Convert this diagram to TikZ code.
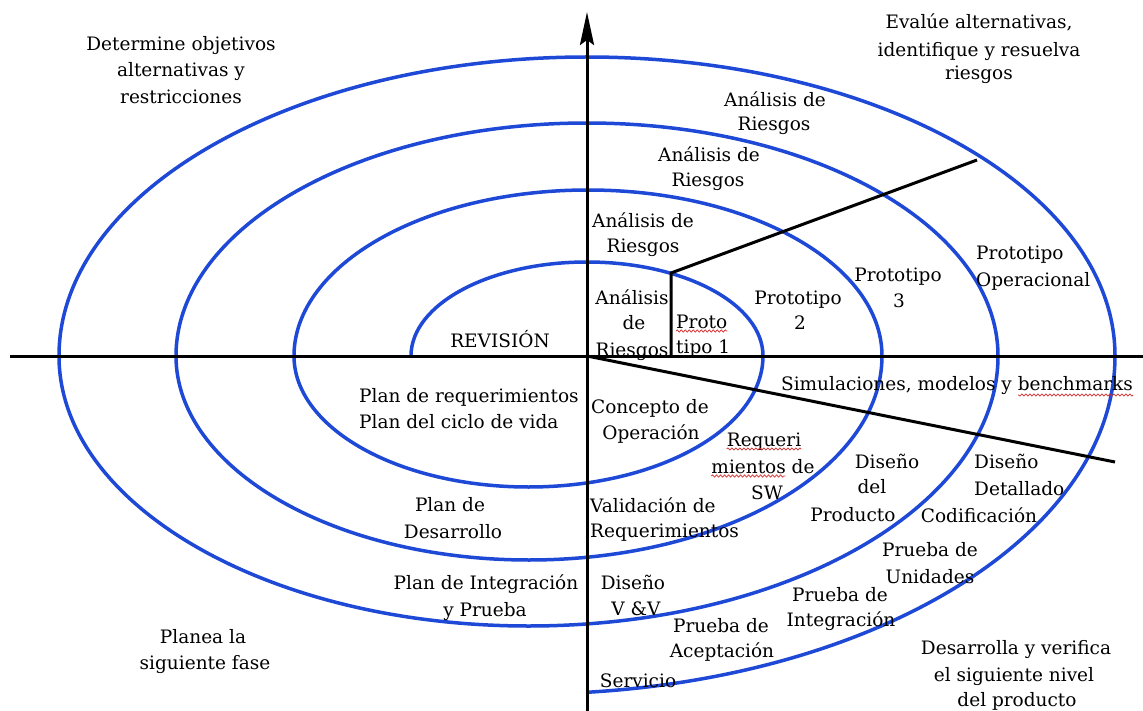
\documentclass[tikz,border=0pt]{standalone}
\usepackage{fontspec}
\setmainfont{DejaVu Serif}
\usetikzlibrary{arrows.meta,decorations.pathmorphing}
\definecolor{spiralblue}{RGB}{30,72,214}
\definecolor{squigred}{RGB}{215,45,45}
\begin{document}
\begin{tikzpicture}[x=1pt,y=1pt,
  lbl/.style={font=\fontsize{18.5}{26}\selectfont, inner sep=0pt, anchor=base},
  lbll/.style={lbl, anchor=base west},
  spiral/.style={draw=spiralblue, line width=3.5pt, line join=round},
  axisline/.style={draw=black, line width=3pt},
  squig/.style={draw=squigred, line width=0.7pt, decorate, decoration={snake, amplitude=1.1pt, segment length=4pt}}]

\fill[white] (0,0) rectangle (1143,-711);
\useasboundingbox (0,0) rectangle (1143,-711);

% spiral
\draw[spiral] (411,-356)
  arc[start angle=180, end angle=0, x radius=176, y radius=94]
  arc[start angle=0, end angle=-180, x radius=234.5, y radius=131]
  arc[start angle=180, end angle=0, x radius=294, y radius=166]
  arc[start angle=0, end angle=-180, x radius=353, y radius=204]
  arc[start angle=180, end angle=0, x radius=411, y radius=233]
  arc[start angle=0, end angle=-180, x radius=469.5, y radius=270]
  arc[start angle=180, end angle=0, x radius=528, y radius=299]
  arc[start angle=0, end angle=-84.2, x radius=587, y radius=338];

% quadrant texts
\node[lbl] (dt1) at (181,-51) {Determine objetivos};
\node[lbl] (dt2) at (181,-77) {alternativas y};
\node[lbl] (dt3) at (181,-104) {restricciones};

\node[lbl] (ev1) at (979,-29) {Evalúe alternativas,};
\node[lbl] (ev2) at (979,-57) {identifique y resuelva};
\node[lbl] (ev3) at (979,-80) {riesgos};

\node[lbl] (pl1) at (203,-643) {Planea la};
\node[lbl] (pl2) at (205,-669) {siguiente fase};

\node[lbl] (dv1) at (1016,-654) {Desarrolla y verifica};
\node[lbl] (dv2) at (1014,-681) {el siguiente nivel};
\node[lbl] (dv3) at (1017,-706) {del producto};

% upper half
\node[lbl] (rev) at (500,-347) {REVISIÓN};

\node[lbl] (ra1a) at (775,-107) {Análisis de};
\node[lbl] (ra1b) at (774,-131) {Riesgos};
\node[lbl] (ra2a) at (709,-162) {Análisis de};
\node[lbl] (ra2b) at (708,-187) {Riesgos};
\node[lbl] (ra3a) at (643,-228) {Análisis de};
\node[lbl] (ra3b) at (643,-253) {Riesgos};
\node[lbl] (ra4a) at (632,-305) {Análisis};
\node[lbl] (ra4b) at (634,-330) {de};
\node[lbl] (ra4c) at (632,-356) {Riesgos};

\node[lbll] (pt1a) at (676,-328) {Proto};
\node[lbll] (pt1b) at (676,-353) {tipo 1};
\node[lbl] (p2a) at (798,-305) {Prototipo};
\node[lbl] (p2b) at (800,-330) {2};
\node[lbl] (p3a) at (898,-282) {Prototipo};
\node[lbl] (p3b) at (899,-308) {3};
\node[lbll] (p4a) at (976,-260) {Prototipo};
\node[lbll] (p4b) at (976,-287) {Operacional};

% lower half
\node[lbl] (sim) at (957,-390) {Simulaciones, modelos y benchmarks};

\node[lbll] (pr1) at (359,-402) {Plan de requerimientos};
\node[lbll] (pr2) at (359,-428) {Plan del ciclo de vida};
\node[lbl] (pd1) at (450,-511) {Plan de};
\node[lbl] (pd2) at (453,-538) {Desarrollo};
\node[lbl] (pg1) at (486,-589) {Plan de Integración};
\node[lbl] (pg2) at (485,-616) {y Prueba};

\node[lbl] (cd1) at (650,-413) {Concepto de};
\node[lbl] (cd2) at (651,-439) {Operación};
\node[lbl] (rq1) at (764,-446) {Requeri};
\node[lbl] (rq2) at (763,-473) {mientos de};
\node[lbl] (rq3) at (767,-499) {SW};
\node[lbl] (dp1) at (887,-468) {Diseño};
\node[lbl] (dp2) at (872,-493) {del};
\node[lbl] (dp3) at (853,-521) {Producto};
\node[lbll] (dd1) at (974,-468) {Diseño};
\node[lbll] (dd2) at (974,-495) {Detallado};
\node[lbl] (cod) at (979,-522) {Codificación};
\node[lbll] (vr1) at (590,-512) {Validación de};
\node[lbll] (vr2) at (590,-537) {Requerimientos};
\node[lbl] (pu1) at (930,-556) {Prueba de};
\node[lbl] (pu2) at (930,-583) {Unidades};
\node[lbl] (vv1) at (633,-589) {Diseño};
\node[lbl] (vv2) at (636,-615) {V \&V};
\node[lbl] (pi1) at (840,-601) {Prueba de};
\node[lbl] (pi2) at (841,-626) {Integración};
\node[lbl] (pa1) at (721,-632) {Prueba de};
\node[lbl] (pa2) at (722,-657) {Aceptación};
\node[lbl] (sv) at (638,-687) {Servicio};

% spell-check squiggles
\draw[squig] ([yshift=-3pt]pt1a.base west) -- ([yshift=-3pt]pt1a.base east);
\draw[squig] ([yshift=-3pt]rq1.base west) -- ([yshift=-3pt]rq1.base east);
\draw[squig] ([yshift=-3pt]rq2.base west) -- ++(74,0);
\draw[squig] ([yshift=-5pt]sim.base east) -- ++(-115,0);

% black lines
\coordinate (O) at (587,-356);
\coordinate (Otop) at (587,-12);
\coordinate (Obot) at (587,-711);
\coordinate (Hl) at (10,-356);
\coordinate (Hr) at (1143,-356);
\coordinate (Rb) at (671,-356);
\coordinate (Rk) at (671,-273);
\coordinate (Re) at (977,-160);
\coordinate (Se) at (1115,-462);

\draw[axisline] (Hl) -- (Hr);
\draw[axisline, -{Stealth[length=33pt, width=14pt, inset=5pt]}] (Obot) -- (Otop);
\draw[axisline, line join=round] (Rb) -- (Rk) -- (Re);
\draw[axisline] (O) -- (Se);
\end{tikzpicture}
\end{document}
